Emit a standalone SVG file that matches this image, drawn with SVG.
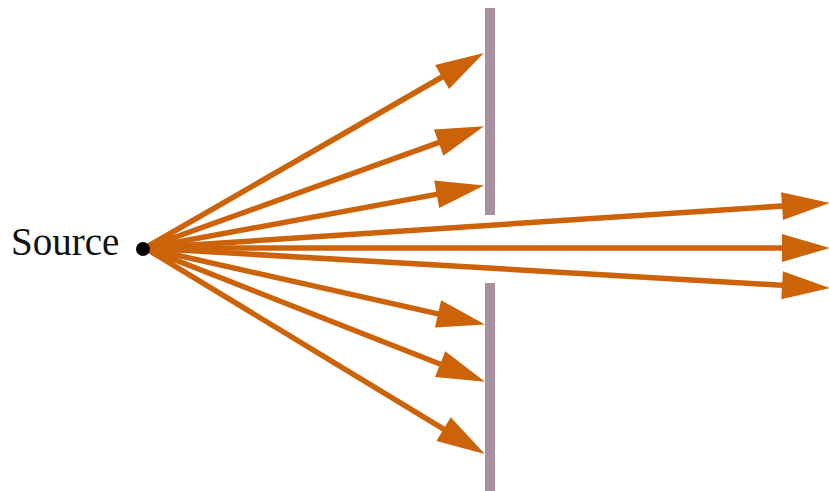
<svg xmlns="http://www.w3.org/2000/svg" width="829" height="491" viewBox="0 0 829 491">
<style>
.ray{stroke:#cc6309;stroke-width:5.5;fill:none;marker-end:url(#ah)}
.bar{fill:#a8909e}
.lbl{font-family:"Liberation Serif","Times New Roman",serif;font-size:39px;fill:#111}
</style>
<defs>
<marker id="ah" markerUnits="userSpaceOnUse" markerWidth="50" markerHeight="30" viewBox="0 -14 46 28" refX="15" refY="0" orient="auto" overflow="visible">
<path d="M0,-13 L45,0 L0,13 z" fill="#cc6309"/>
</marker>
</defs>
<rect width="829" height="491" fill="#fff"/>
<g id="barrier">
<rect class="bar" x="485" y="8" width="10" height="207"/>
<rect class="bar" x="485" y="283" width="10" height="208"/>
</g>
<g id="connectors">
<line class="ray" x1="145" y1="248" x2="456.0" y2="69.0"/>
<line class="ray" x1="145" y1="248" x2="453.8" y2="137.1"/>
<line class="ray" x1="145" y1="248" x2="452.5" y2="191.4"/>
<line class="ray" x1="145" y1="248" x2="798.1" y2="205.0"/>
<line class="ray" x1="145" y1="248" x2="798" y2="248"/>
<line class="ray" x1="145" y1="248" x2="798.1" y2="286.2"/>
<line class="ray" x1="145" y1="248" x2="453.7" y2="317.4"/>
<line class="ray" x1="145" y1="248" x2="455.1" y2="370.0"/>
<line class="ray" x1="145" y1="248" x2="457.3" y2="437.4"/>
</g>
<g id="source">
<circle cx="143" cy="249" r="7" fill="#000"/>
<text class="lbl" x="11" y="255">Source</text>
</g>
</svg>
